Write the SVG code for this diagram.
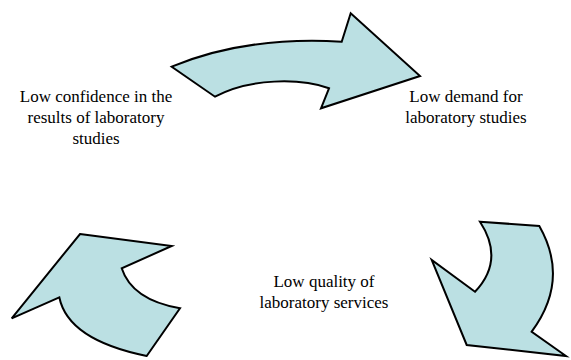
<svg xmlns="http://www.w3.org/2000/svg" width="571" height="360" viewBox="0 0 571 360">
<style>
.arr{fill:#bbe0e3;stroke:#000;stroke-width:2;stroke-linejoin:miter}
text{font-family:"Liberation Serif","Times New Roman",serif;font-size:17px;fill:#000;text-anchor:middle}
</style>
<rect width="571" height="360" fill="#fff"/>
<g id="connectors">
<path id="arrow-top" class="arr" d="M171.7,66.7 Q245,36 341.7,41.7 L350.7,13.3 L420,76 L321,108.3 L329,88.3 C300,78 250,78 215,96.7 Z"/>
<path id="arrow-right" class="arr" d="M480,221.7 L539.3,226 Q570,280 531.7,331.7 L566,356 L466.7,345 L431.7,260 L475,291.7 Q505,260 480,221.7 Z"/>
<path id="arrow-left" class="arr" d="M80,234 L171.7,246 L121.7,268.3 Q132,300 180,308.3 L146.7,356 Q68,340 59.3,297.3 L11.7,318.3 Z"/>
</g>
<g id="node-confidence">
<text x="96" y="102">Low confidence in the</text>
<text x="96" y="123">results of laboratory</text>
<text x="96" y="144">studies</text>
</g>
<g id="node-demand">
<text x="466" y="102">Low demand for</text>
<text x="466" y="123">laboratory studies</text>
</g>
<g id="node-quality">
<text x="324" y="287">Low quality of</text>
<text x="324" y="308">laboratory services</text>
</g>
</svg>
